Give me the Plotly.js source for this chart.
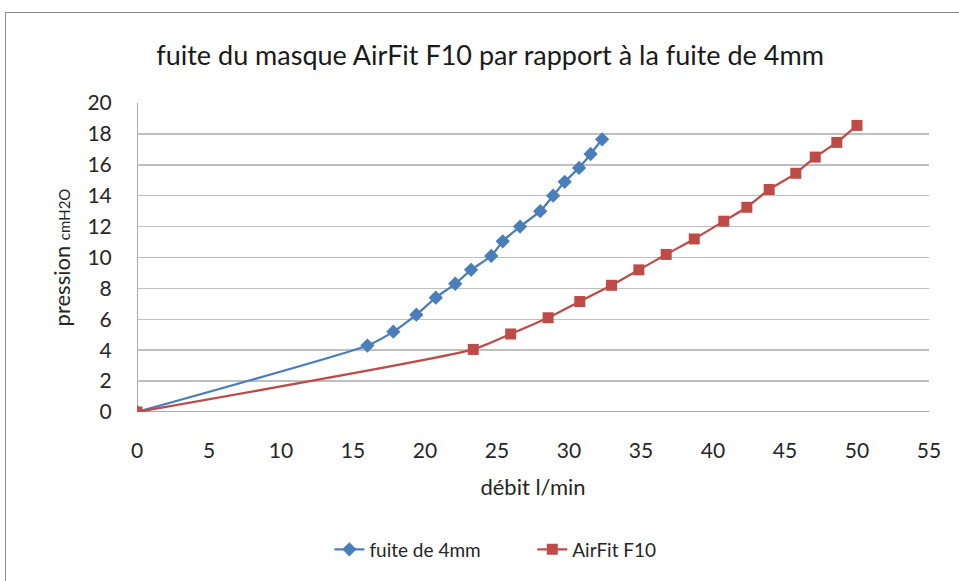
<!DOCTYPE html>
<html>
<head>
<meta charset="utf-8">
<script src="https://cdn.plot.ly/plotly-3.0.1.min.js"></script>
<style>
  html, body { margin: 0; padding: 0; background: #fff; }
  #wrap { position: relative; width: 959px; height: 581px; overflow: hidden; }
  #chart { width: 959px; height: 581px; }
  #frame { position: absolute; left: 5px; top: 12px; width: 1000px; height: 640px;
           border: 1.5px solid #8c8c8c; pointer-events: none; box-sizing: border-box; }
</style>
</head>
<body>
<div id="wrap">
  <div id="chart"></div>
  <div id="frame"></div>
</div>
<script>
// Series: "fuite de 4mm"
const fuiteX = [0, 16.0, 17.8, 19.4, 20.75, 22.1, 23.2, 24.6, 25.4, 26.6, 28.0, 28.9, 29.7, 30.7, 31.5, 32.3];
const fuiteY = [0, 4.3, 5.2, 6.3, 7.4, 8.3, 9.2, 10.1, 11.05, 12.0, 13.0, 14.0, 14.9, 15.8, 16.7, 17.65];
// Series: "AirFit F10"
const airfitX = [0, 23.35, 25.95, 28.55, 30.75, 32.95, 34.85, 36.75, 38.7, 40.75, 42.35, 43.9, 45.75, 47.1, 48.6, 50.0];
const airfitY = [0, 4.05, 5.05, 6.1, 7.15, 8.2, 9.2, 10.2, 11.2, 12.35, 13.25, 14.4, 15.45, 16.5, 17.45, 18.55];

const seriesNames = ["fuite de 4mm", "AirFit F10"];
const xTicks = [0, 5, 10, 15, 20, 25, 30, 35, 40, 45, 50, 55];
const yTicks = [0, 2, 4, 6, 8, 10, 12, 14, 16, 18, 20];

const FONT = "Lato, 'Open Sans', sans-serif";

const traces = [
  {
    x: fuiteX, y: fuiteY, name: seriesNames[0], type: "scatter", mode: "lines+markers",
    line: { color: "#4a7ebb", width: 2.25, shape: "spline", smoothing: 0.5 },
    marker: { symbol: "diamond", size: 11, color: "#4a7ebb" },
    legend: "legend"
  },
  {
    x: airfitX, y: airfitY, name: seriesNames[1], type: "scatter", mode: "lines+markers",
    line: { color: "#be4b48", width: 2.25, shape: "spline", smoothing: 0.5 },
    marker: { symbol: "square", size: 11, color: "#be4b48" },
    legend: "legend2"
  }
];

const legendCommon = {
  orientation: "h", y: -0.445, yanchor: "middle", xanchor: "left",
  font: { family: FONT, size: 19, color: "#262626" }, bgcolor: "rgba(0,0,0,0)"
};

const layout = {
  width: 959, height: 581,
  margin: { l: 136.5, r: 30, t: 102.7, b: 169.3 },
  paper_bgcolor: "#ffffff", plot_bgcolor: "#ffffff",
  font: { family: FONT, color: "#262626" },
  title: {
    text: "fuite du masque AirFit F10 par rapport à la fuite de 4mm",
    font: { family: FONT, size: 27, color: "#1a1a1a" },
    x: 0.511, xanchor: "center", y: 0.905, yanchor: "middle"
  },
  xaxis: {
    range: [0, 55], tickvals: xTicks, ticktext: xTicks.map(String),
    showgrid: false, zeroline: false,
    showline: false,
    ticks: "outside", ticklen: 20, tickcolor: "rgba(0,0,0,0)",
    tickfont: { family: FONT, size: 21, color: "#262626" },
    title: { text: "débit l/min", font: { family: FONT, size: 22, color: "#262626" }, standoff: 18 },
    fixedrange: true
  },
  yaxis: {
    range: [0, 20], tickvals: yTicks, ticktext: yTicks.map(String),
    showgrid: true, gridcolor: "#bfbfbf", gridwidth: 1.5,
    zeroline: false, showline: false,
    ticks: "outside", ticklen: 20, tickcolor: "rgba(0,0,0,0)",
    tickfont: { family: FONT, size: 21, color: "#262626" },
    title: { text: "pression <span style='font-size:15px'>cmH2O</span>", font: { family: FONT, size: 22, color: "#262626" }, standoff: 10 },
    fixedrange: true
  },
  shapes: [
    { type: "line", xref: "x", yref: "paper", x0: 0, x1: 0, y0: 0, y1: 1,
      line: { color: "#8c8c8c", width: 1.5 }, layer: "below" },
    { type: "line", xref: "paper", yref: "y", x0: 0, x1: 1, y0: 0, y1: 0,
      line: { color: "#8c8c8c", width: 1.5 }, layer: "below" }
  ],
  legend: Object.assign({}, legendCommon, { x: 0.2429 }),
  legend2: Object.assign({}, legendCommon, { x: 0.4991 }),
  showlegend: true
};

Plotly.newPlot("chart", traces, layout, { displayModeBar: false, staticPlot: true });
</script>
</body>
</html>
